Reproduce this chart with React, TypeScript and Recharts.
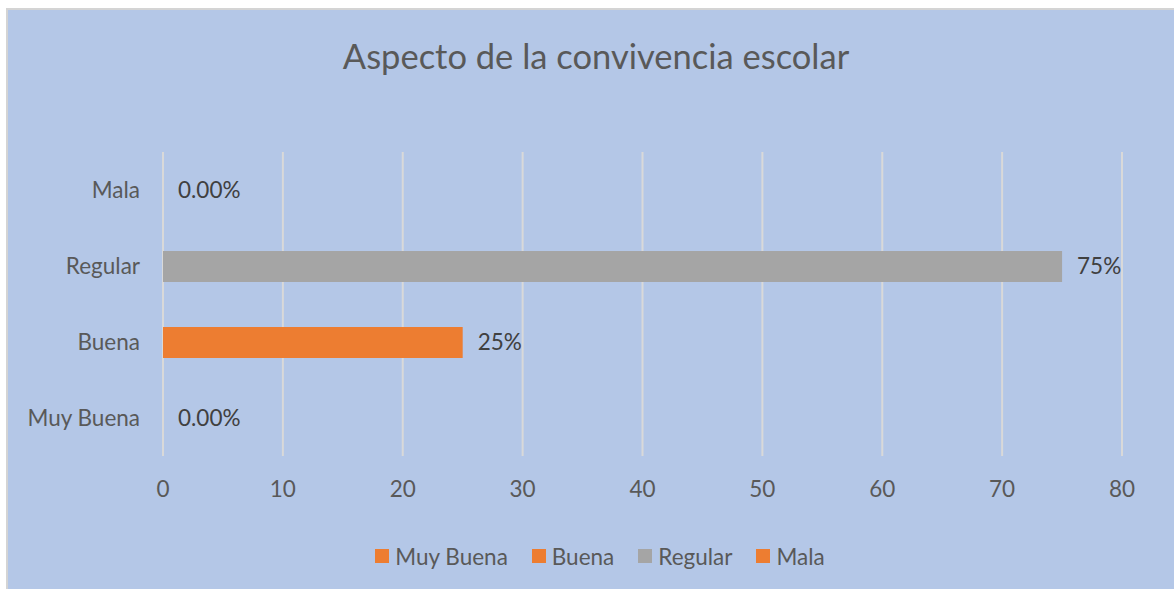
import React from "react";
import { BarChart, Bar, XAxis, YAxis, CartesianGrid, Cell, LabelList, Legend } from "recharts";

const categories = ["Muy Buena", "Buena", "Regular", "Mala"];
const values = [0, 25, 75, 0];
const valueLabels = ["0.00%", "25%", "75%", "0.00%"];
const colors = ["#ED7D31", "#ED7D31", "#A5A5A5", "#ED7D31"];
const xTicks = [0, 10, 20, 30, 40, 50, 60, 70, 80];
const title = "Aspecto de la convivencia escolar";

const data = categories.map((c, i) => ({ name: c, value: values[i], label: valueLabels[i] }));

const FONT = "Lato, 'Open Sans', sans-serif";
const FS = 22.5;

const LegendContent = () => (
  <div
    style={{
      height: 44,
      display: "flex",
      alignItems: "center",
      justifyContent: "center",
      paddingLeft: 70,
      fontFamily: FONT,
      fontSize: FS,
      color: "#595959",
      gap: 24,
    }}
  >
    {categories.map((c, i) => (
      <div key={c} style={{ display: "flex", alignItems: "center" }}>
        <span style={{ width: 14, height: 14, background: colors[i], display: "inline-block", marginRight: 6 }} />
        <span>{c}</span>
      </div>
    ))}
  </div>
);

export default function App() {
  return (
    <div
      style={{
        position: "absolute",
        left: 6,
        top: 8,
        width: 1166,
        height: 579,
        background: "#B4C7E7",
        borderLeft: "2px solid #D4D4D4",
        borderTop: "2px solid #D4D4D4",
      }}
    >
      <div
        style={{
          position: "absolute",
          left: 0,
          top: 26,
          width: 1176,
          textAlign: "center",
          fontFamily: FONT,
          fontSize: 34.5,
          color: "#595959",
          lineHeight: "40px",
        }}
      >
        {title}
      </div>
      <BarChart
        width={1166}
        height={579}
        data={data}
        layout="vertical"
        margin={{ top: 142, right: 52, bottom: 11, left: 0 }}
        barCategoryGap={0}
      >
        <CartesianGrid horizontal={false} stroke="#D9D9D9" strokeWidth={2} />
        <XAxis
          type="number"
          domain={[0, 80]}
          ticks={xTicks}
          axisLine={false}
          tickLine={false}
          tickSize={0}
          tickMargin={25}
          height={78}
          interval={0}
          tick={{ fill: "#595959", fontSize: FS, fontFamily: FONT }}
        />
        <YAxis
          type="category"
          dataKey="name"
          reversed
          width={155}
          axisLine={false}
          tickLine={false}
          tickSize={0}
          tickMargin={23}
          interval={0}
          tick={{ fill: "#595959", fontSize: FS, fontFamily: FONT }}
        />
        <Legend verticalAlign="bottom" height={44} content={() => <LegendContent />} />
        <Bar dataKey="value" barSize={31} minPointSize={0.01} isAnimationActive={false}>
          {data.map((d, i) => (
            <Cell key={d.name} fill={colors[i]} />
          ))}
          <LabelList
            dataKey="label"
            position="right"
            offset={15}
            fill="#404040"
            fontSize={FS}
            fontFamily={FONT}
          />
        </Bar>
      </BarChart>
    </div>
  );
}
